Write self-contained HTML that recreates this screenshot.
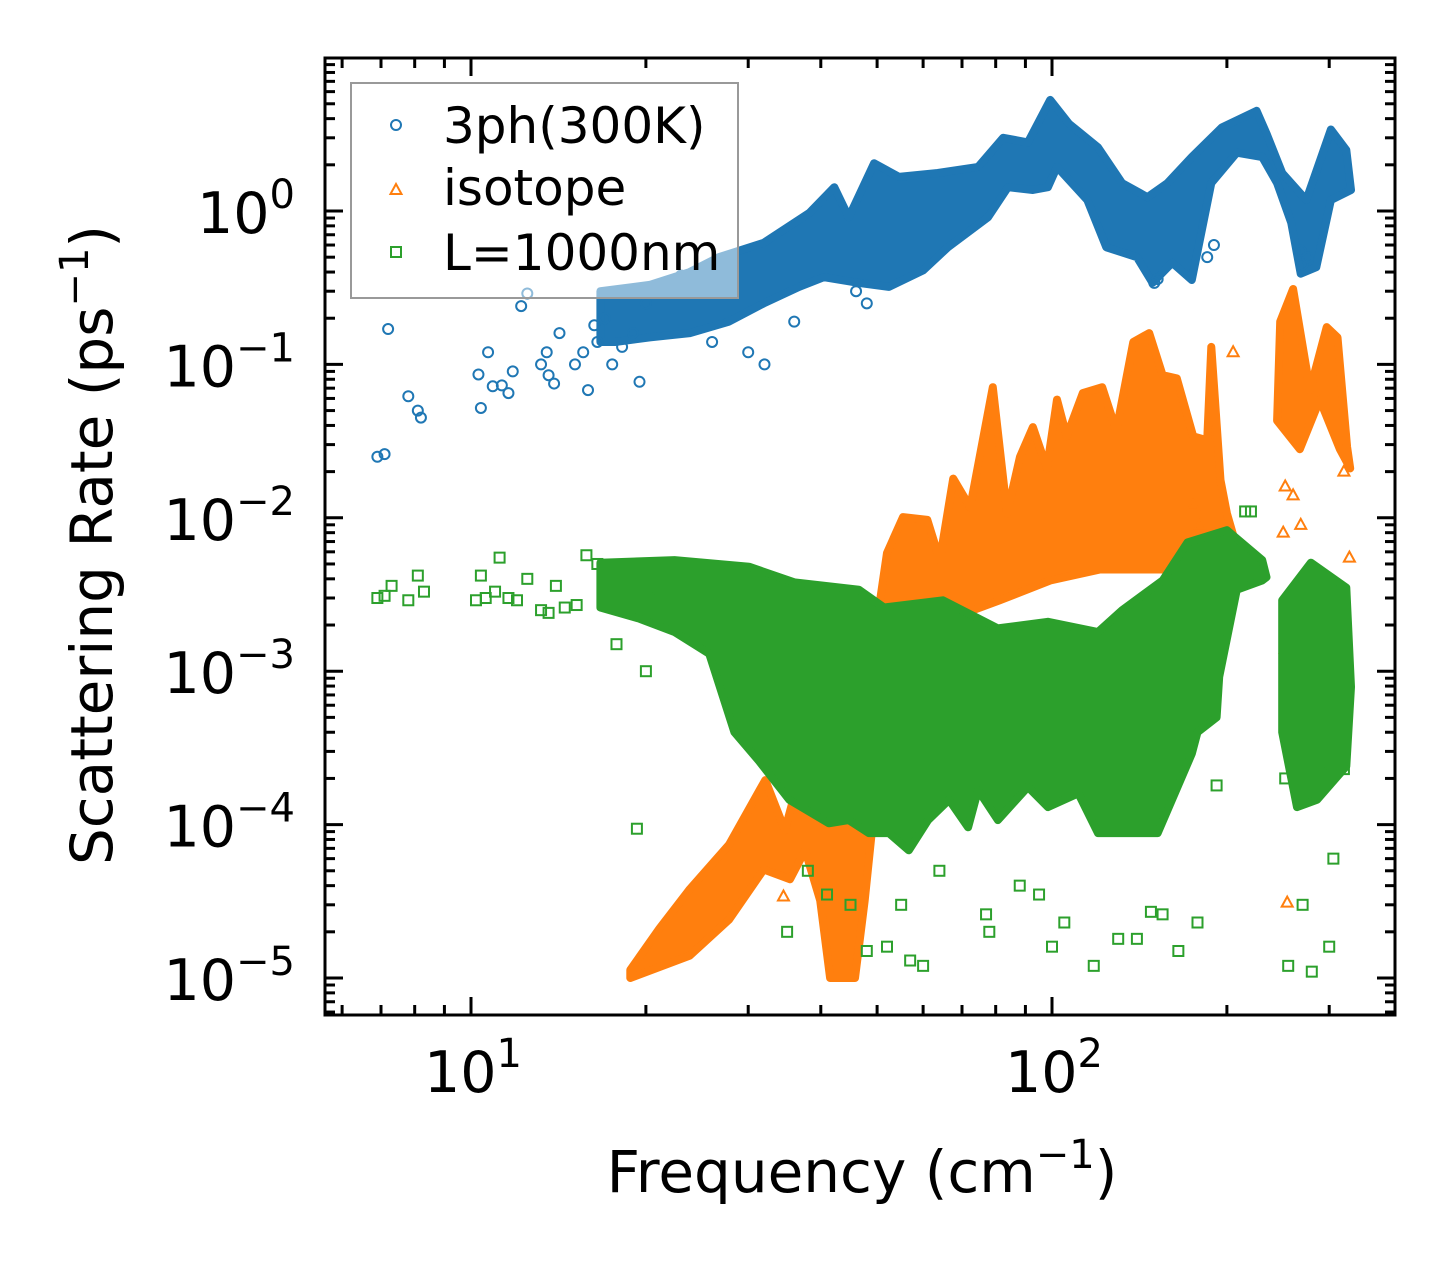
<!DOCTYPE html>
<html><head><meta charset="utf-8"><style>
html,body{margin:0;padding:0;background:#fff}
svg{display:block;font-family:"DejaVu Sans","Liberation Sans",sans-serif}
</style></head><body>
<svg id="chart" width="1455" height="1265" viewBox="0 0 1455 1265" xmlns="http://www.w3.org/2000/svg">
<rect width="1455" height="1265" fill="#fff"/>
<g id="plot"></g>
<g id="axes"></g>
<g id="legend">
<rect x="351" y="83" width="387" height="215" fill="#fff" fill-opacity="0.5" stroke="#999" stroke-width="2"/>
<circle cx="396" cy="125" r="5" fill="none" stroke="#1f77b4" stroke-width="2"/>
<text x="443" y="143" font-size="50">3ph(300K)</text>
<polygon points="396,184 401.5,194 390.5,194" fill="none" stroke="#ff7f0e" stroke-width="2"/>
<text x="443" y="205" font-size="50">isotope</text>
<rect x="391" y="247" width="10" height="10" fill="none" stroke="#2ca02c" stroke-width="2"/>
<text x="443" y="270" font-size="50">L=1000nm</text>
</g>
<text x="862" y="1192" font-size="58" text-anchor="middle">Frequency (cm<tspan dy="-24" font-size="40">−1</tspan><tspan dy="24">)</tspan></text>
<text transform="translate(112,545) rotate(-90)" font-size="58" text-anchor="middle">Scattering Rate (ps<tspan dy="-24" font-size="40">−1</tspan><tspan dy="24">)</tspan></text>
</svg>
<script>
// ---- data (frequency cm^-1, rate ps^-1) ----
const blueUpX = [16.7,20.3,23.8,26.7,31.9,38.2,42.2,44.7,49.4,54.5,63.6,74.6,82.4,90.9,99.3,107,120,132,146,158,174,196,225,234,249,274,302,321,327];
const blueUpY = [0.3,0.33,0.4,0.5,0.62,0.97,1.43,0.91,2.05,1.67,1.77,1.94,3.0,2.8,5.3,3.7,2.6,1.52,1.23,1.52,2.25,3.5,4.5,3.2,1.77,1.18,3.4,2.5,1.37];
const blueLoX = [16.7,17.7,20.3,23.8,27.8,31.9,36.7,40.5,46.5,52.4,60,66.2,77.6,84,92.7,98.4,102,115,124,140,149,161,174,188,208,230,244,258,268,285,302,327];
const blueLoY = [0.14,0.14,0.15,0.16,0.19,0.25,0.32,0.37,0.34,0.32,0.41,0.58,0.91,1.43,1.37,1.43,1.94,1.18,0.58,0.5,0.34,0.46,0.355,1.52,2.4,2.25,1.52,0.84,0.39,0.43,1.18,1.37];
const blueX = [6.9,7.1,7.2,7.8,8.1,8.2,10.3,10.4,10.7,10.9,11.3,11.6,11.8,12.2,12.5,13.2,13.5,13.6,13.9,14.2,15.1,15.6,15.9,16.3,16.5,17,17.5,18.2,19,19.5,20,21,23,26,28,30,32,36,46,48,150,152,270,275,268,185,190];
const blueY = [0.025,0.026,0.17,0.062,0.05,0.045,0.086,0.052,0.12,0.072,0.073,0.065,0.09,0.24,0.29,0.1,0.12,0.085,0.075,0.16,0.1,0.12,0.068,0.18,0.14,0.2,0.1,0.13,0.16,0.077,0.25,0.3,0.38,0.14,0.5,0.12,0.1,0.19,0.3,0.25,0.34,0.36,0.45,0.5,0.55,0.5,0.6];

const orangeUpX = [18.8,21.1,23.8,27.8,31.4,32.1,34.7,36.8,39.9,44.9,48.6,50.6,52,55.4,61,64.1,67.6,72.3,79.1,83.7,88.1,92.7,98,102,106,113,122,129,138,147,155,164,175,185,188,195,200,211];
const orangeUpY = [1.13e-5,2.1e-5,3.8e-5,7.4e-5,1.68e-4,1.95e-4,9.2e-5,2.1e-4,1.68e-4,2.6e-4,3.6e-4,2.9e-3,5.9e-3,1.01e-2,9.7e-3,5.3e-3,1.8e-2,1.17e-2,7.1e-2,1.07e-2,2.5e-2,3.9e-2,2.1e-2,5.9e-2,3.4e-2,6.5e-2,7.1e-2,3.7e-2,0.14,0.16,8.5e-2,8.1e-2,3.4e-2,3.2e-2,0.13,1.76e-2,1.07e-2,5.3e-3];
const orangeLoX = [18.8,23.8,27.8,31.9,35.4,37.6,39.9,41.5,45.8,47.6,49.6,51.6,66.7,81.3,99.3,121,147,180,211];
const orangeLoY = [1e-5,1.4e-5,2.4e-5,5.1e-5,4.4e-5,6.8e-5,3.2e-5,1e-5,1e-5,3.2e-5,1.45e-4,1.6e-3,2.2e-3,2.9e-3,3.9e-3,4.6e-3,4.6e-3,4.6e-3,4.9e-3];
const orange2UpX = [244,247,260,278,297,310,322,326];
const orange2UpY = [0.043,0.19,0.31,0.068,0.175,0.15,0.029,0.021];
const orange2LoX = [244,267,289,313,326];
const orange2LoY = [0.043,0.028,0.059,0.028,0.021];
const orangeX = [34.5,254,252,272,268,318,205,222,180,175,250,252,260,325];
const orangeY = [3.4e-5,3.1e-5,1.4e-3,4e-3,9e-3,2e-2,1.2e-1,5e-3,9e-3,1.2e-2,8e-3,1.6e-2,1.4e-2,5.5e-3];

const greenUpX = [16.7,22.4,30.1,36,46.5,51.4,64.9,80.7,98.4,120,132,155,171,200,230,234];
const greenUpY = [5.1e-3,5.3e-3,4.8e-3,3.8e-3,3.4e-3,2.6e-3,2.9e-3,1.9e-3,2.1e-3,1.8e-3,2.5e-3,3.9e-3,6.9e-3,8.3e-3,5.3e-3,4.1e-3];
const greenLoX = [16.7,19.5,22.4,25.7,28.4,31.3,35.3,41.3,44.7,48.4,52.4,56.7,61.2,66.5,71.7,74.6,80.7,90.9,98.4,111,120,152,174,178,192,194,208,230,234];
const greenLoY = [2.6e-3,2.2e-3,1.8e-3,1.3e-3,4e-4,2.6e-4,1.45e-4,1.02e-4,1.07e-4,8.8e-5,8.8e-5,6.8e-5,1.07e-4,1.45e-4,9.6e-5,1.68e-4,1.07e-4,1.76e-4,1.3e-4,1.6e-4,8.8e-5,8.8e-5,2.9e-4,4e-4,5e-4,9.2e-4,3.4e-3,3.9e-3,4.1e-3];
const green2UpX = [249,279,321,327];
const green2UpY = [2.9e-3,5.1e-3,3.5e-3,7.9e-4];
const green2LoX = [249,264,286,321,327];
const green2LoY = [4e-4,1.3e-4,1.45e-4,2.4e-4,7.9e-4];
const greenX = [6.9,7.1,7.3,7.8,8.1,8.3,10.2,10.4,10.6,11,11.2,11.6,12,12.5,13.2,13.6,14,15.8,16.5,17.8,18.8,19.3,20,21,35,38,41,45,48,52,55,57,60,64,77,78,88,95,100,105,118,130,140,148,155,165,178,192,252,255,270,280,290,300,305,318,215,220,14.5,15.2];
const greenY = [3e-3,3.1e-3,3.6e-3,2.9e-3,4.2e-3,3.3e-3,2.9e-3,4.2e-3,3e-3,3.3e-3,5.5e-3,3e-3,2.9e-3,4e-3,2.5e-3,2.4e-3,3.6e-3,5.7e-3,5e-3,1.5e-3,2.8e-3,9.4e-5,1e-3,3e-3,2e-5,5e-5,3.5e-5,3e-5,1.5e-5,1.6e-5,3e-5,1.3e-5,1.2e-5,5e-5,2.6e-5,2e-5,4e-5,3.5e-5,1.6e-5,2.3e-5,1.2e-5,1.8e-5,1.8e-5,2.7e-5,2.6e-5,1.5e-5,2.3e-5,1.8e-4,2e-4,1.2e-5,3e-5,1.1e-5,2.5e-4,1.6e-5,6e-5,2.3e-4,1.1e-2,1.1e-2,2.6e-3,2.7e-3];

const xTickVals = [10,100];
const xTickExp = ['1','2'];
const yTickVals = [1,0.1,0.01,0.001,0.0001,0.00001];
const yTickExp = ['0','−1','−2','−3','−4','−5'];

// ---- axes ----
const L=325,R=1395,T=58,B=1015;
const X0=471, XD=581, Y0=211, YD=153.4;
function sx(v){return X0+(Math.log10(v)-1)*XD;}
function sy(v){return Y0-Math.log10(v)*YD;}
const NS='http://www.w3.org/2000/svg';
function mk(tag,attrs,parent){const e=document.createElementNS(NS,tag);for(const k in attrs)e.setAttribute(k,attrs[k]);parent.appendChild(e);return e;}
const plot=document.getElementById('plot');
const axes=document.getElementById('axes');

function band(ux,uy,lx,ly,color,name){
  const pts=ux.map((x,i)=>sx(x).toFixed(1)+','+sy(uy[i]).toFixed(1)).concat(lx.map((x,i)=>sx(x).toFixed(1)+','+sy(ly[i]).toFixed(1)).reverse());
  const p=mk('polygon',{points:pts.join(' '),fill:color,stroke:color,'stroke-width':'8','stroke-linejoin':'round'},plot);
  
  
}
function marker(kind,x,y,color,name){
  const cx=sx(x),cy=sy(y);let e;
  if(kind==='c') e=mk('circle',{cx:cx,cy:cy,r:5,fill:'none',stroke:color,'stroke-width':2},plot);
  else if(kind==='t') e=mk('polygon',{points:`${cx},${cy-6} ${cx+5.5},${cy+4} ${cx-5.5},${cy+4}`,fill:'none',stroke:color,'stroke-width':2},plot);
  else e=mk('rect',{x:cx-5,y:cy-5,width:10,height:10,fill:'none',stroke:color,'stroke-width':2},plot);
  
  
}
band(blueUpX,blueUpY,blueLoX,blueLoY,'#1f77b4','band-3ph');
blueX.forEach((x,i)=>marker('c',x,blueY[i],'#1f77b4','point-3ph'));
band(orangeUpX,orangeUpY,orangeLoX,orangeLoY,'#ff7f0e','band-isotope');
band(orange2UpX,orange2UpY,orange2LoX,orange2LoY,'#ff7f0e','band-isotope-high');
orangeX.forEach((x,i)=>marker('t',x,orangeY[i],'#ff7f0e','point-isotope'));
band(greenUpX,greenUpY,greenLoX,greenLoY,'#2ca02c','band-boundary');
band(green2UpX,green2UpY,green2LoX,green2LoY,'#2ca02c','band-boundary-high');
greenX.forEach((x,i)=>marker('s',x,greenY[i],'#2ca02c','point-boundary'));

// frame
const fr=mk('rect',{x:L,y:T,width:R-L,height:B-T,fill:'none',stroke:'#000','stroke-width':3},axes);


for(let d=0;d<=2;d++){for(let m=1;m<10;m++){const v=m*Math.pow(10,d);const px=sx(v);if(px<L||px>R)continue;const len=m===1?18:10;
  const t1=mk('line',{x1:px,y1:B,x2:px,y2:B-len,stroke:'#000','stroke-width':3},axes);
  
  
  const t2=mk('line',{x1:px,y1:T,x2:px,y2:T+len,stroke:'#000','stroke-width':3},axes);
  
  }}
for(let d=-6;d<=1;d++){for(let m=1;m<10;m++){const v=m*Math.pow(10,d);const py=sy(v);if(py<T||py>B)continue;const len=m===1?18:10;
  const t1=mk('line',{x1:L,y1:py,x2:L+len,y2:py,stroke:'#000','stroke-width':3},axes);
  
  
  const t2=mk('line',{x1:R,y1:py,x2:R-len,y2:py,stroke:'#000','stroke-width':3},axes);
  
  }}
xTickVals.forEach((v,i)=>{
  const t=mk('text',{x:sx(v)+2,y:1092,'font-size':57,'text-anchor':'middle'},axes);
  
  
  t.textContent='10';
  const s=mk('tspan',{dy:-25,'font-size':40},t);s.textContent=xTickExp[i];
});
yTickVals.forEach((v,i)=>{
  const t=mk('text',{x:295,y:sy(v)+22,'font-size':57,'text-anchor':'end'},axes);
  
  
  t.textContent='10';
  const s=mk('tspan',{dy:-25,'font-size':40},t);s.textContent=yTickExp[i];
});
</script>
</body></html>
